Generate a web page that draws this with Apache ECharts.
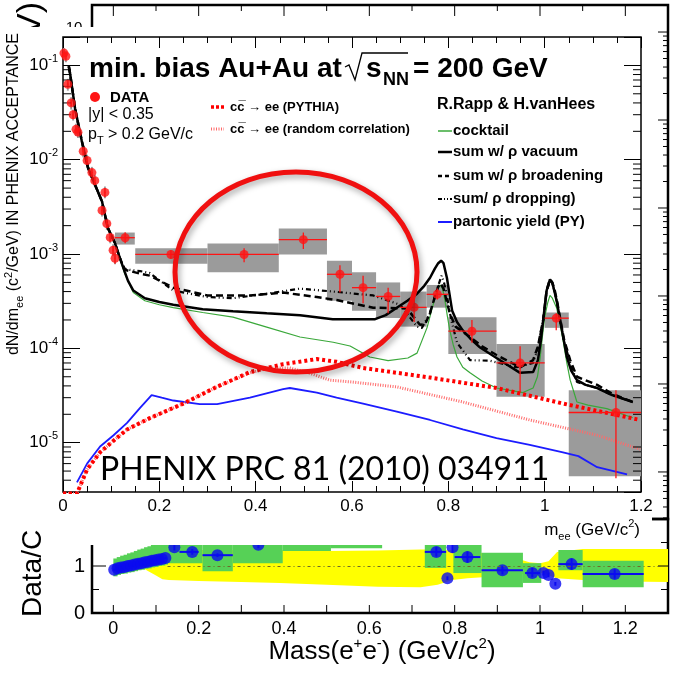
<!DOCTYPE html>
<html>
<head>
<meta charset="utf-8">
<script src="https://cdn.jsdelivr.net/npm/echarts@6/dist/echarts.min.js"></script>
<style>
  html, body { margin: 0; padding: 0; background: #fff; }
  #chart { width: 675px; height: 677px; }
</style>
</head>
<body>
<div id="chart"></div>
<script>
// ---- main panel: measured points (dense low mass + wide bins)
const dataMass  = [0.002, 0.006, 0.010, 0.017, 0.021, 0.027, 0.031, 0.042, 0.050, 0.060, 0.066, 0.081, 0.087, 0.091, 0.098, 0.104, 0.108,
                   0.129, 0.224, 0.376, 0.499, 0.575, 0.623, 0.675, 0.729, 0.777, 0.849, 0.949, 1.024, 1.148];
const dataYield = [0.135, 0.125, 0.063, 0.040, 0.030, 0.021, 0.0196, 0.0123, 0.0098, 0.0073, 0.0060, 0.0029, 0.0045, 0.0021, 0.0015, 0.0011, 0.0009,
                   1.49e-3, 9.9e-4, 9.9e-4, 1.42e-3, 6.1e-4, 4.4e-4, 3.55e-4, 2.72e-4, 3.74e-4, 1.52e-4, 7.0e-5, 2.09e-4, 2.09e-5];
const binLo  = [0.0, 0.004, 0.008, 0.015, 0.019, 0.025, 0.029, 0.040, 0.048, 0.058, 0.064, 0.079, 0.085, 0.089, 0.096, 0.102, 0.106,
                0.108, 0.150, 0.300, 0.448, 0.548, 0.600, 0.650, 0.700, 0.755, 0.800, 0.900, 1.000, 1.050];
const binHi  = [0.004, 0.008, 0.012, 0.019, 0.023, 0.029, 0.033, 0.044, 0.052, 0.062, 0.068, 0.083, 0.089, 0.093, 0.100, 0.106, 0.110,
                0.149, 0.300, 0.448, 0.548, 0.600, 0.650, 0.700, 0.755, 0.800, 0.900, 1.000, 1.050, 1.200];
const statLo = [0.125, 0.115, 0.058, 0.037, 0.027, 0.019, 0.018, 0.0112, 0.0089, 0.0066, 0.0054, 0.0026, 0.0040, 0.0019, 0.00135, 0.00098, 0.00079,
                1.3e-3, 8.9e-4, 8.2e-4, 1.13e-3, 3.9e-4, 3.0e-4, 2.35e-4, 1.9e-4, 3.3e-4, 1.15e-4, 3.4e-5, 1.56e-4, 4.2e-6];
const statHi = [0.145, 0.135, 0.068, 0.043, 0.033, 0.023, 0.0213, 0.0134, 0.0107, 0.0080, 0.0066, 0.0032, 0.0050, 0.0023, 0.00165, 0.00122, 0.00101,
                1.7e-3, 1.1e-3, 1.15e-3, 1.69e-3, 7.6e-4, 5.9e-4, 4.4e-4, 3.4e-4, 4.3e-4, 2.0e-4, 1.05e-4, 2.35e-4, 3.6e-5];
const systLo = [0.117, 0.108, 0.054, 0.034, 0.026, 0.018, 0.0170, 0.0106, 0.0085, 0.0063, 0.0052, 0.0025, 0.0039, 0.0018, 0.0013, 0.00095, 0.00078,
                1.26e-3, 7.9e-4, 6.4e-4, 9.9e-4, 3.2e-4, 2.5e-4, 2.1e-4, 1.7e-4, 2.7e-4, 8.7e-5, 3.06e-5, 1.65e-4, 4.4e-6];
const systHi = [0.153, 0.142, 0.072, 0.046, 0.034, 0.024, 0.0225, 0.0141, 0.0113, 0.0084, 0.0069, 0.0033, 0.0052, 0.0024, 0.0017, 0.00127, 0.00104,
                1.69e-3, 1.15e-3, 1.29e-3, 1.86e-3, 8.5e-4, 6.4e-4, 5.0e-4, 4.0e-4, 4.7e-4, 2.14e-4, 1.11e-4, 2.4e-4, 3.6e-5];

// ---- main panel: model curves
const cocktailMass = [0.012, 0.015, 0.025, 0.039, 0.052, 0.066, 0.081, 0.093, 0.108, 0.118, 0.128, 0.139, 0.146, 0.17, 0.2, 0.229, 0.29, 0.353, 0.423, 0.492,
                      0.561, 0.596, 0.637, 0.675, 0.716, 0.735, 0.745, 0.756, 0.765, 0.772, 0.778, 0.783, 0.788, 0.793, 0.798, 0.803, 0.81, 0.818, 0.83, 0.845,
                      0.87, 0.90, 0.955, 0.976, 0.985, 0.99, 0.995, 1.0, 1.006, 1.011, 1.016, 1.025, 1.032, 1.038, 1.046, 1.053, 1.067, 1.09, 1.129, 1.183];
const cocktailVal  = [0.098, 0.08, 0.035, 0.0158, 0.0082, 0.0055, 0.0036, 0.0019, 0.0013, 0.0009, 0.00062, 0.00047, 0.00039, 0.00032, 0.00029, 0.00027, 0.00024, 0.000214, 0.000168, 0.000132,
                      0.000116, 0.000106, 0.000081, 0.000074, 0.000079, 0.000089, 0.00012, 0.000167, 0.00025, 0.00034, 0.00043, 0.00047, 0.00043, 0.00032, 0.00022, 0.000155, 0.00011, 0.000081, 0.000063, 0.000055,
                      0.000045, 0.000038, 0.000034, 0.000038, 0.00005, 0.000075, 0.00013, 0.000214, 0.0003, 0.000364, 0.00034, 0.000267, 0.00018, 0.000123, 0.00007, 0.000046, 0.000027, 0.000025, 0.000023, 0.0000184];

const vacuumMass = [0.012, 0.015, 0.025, 0.039, 0.052, 0.066, 0.081, 0.093, 0.108, 0.118, 0.128, 0.135, 0.146, 0.17, 0.2, 0.229, 0.29, 0.353, 0.423, 0.492,
                    0.56, 0.648, 0.67, 0.693, 0.715, 0.735, 0.75, 0.762, 0.772, 0.779, 0.785, 0.79, 0.797, 0.803, 0.808, 0.818, 0.83, 0.845, 0.866, 0.90,
                    0.949, 0.976, 0.986, 0.992, 0.997, 1.004, 1.011, 1.016, 1.021, 1.026, 1.032, 1.04, 1.046, 1.055, 1.067, 1.085, 1.109, 1.14, 1.183];
const vacuumVal  = [0.098, 0.08, 0.035, 0.0158, 0.0082, 0.0055, 0.0036, 0.0019, 0.0013, 0.00091, 0.00065, 0.00052, 0.00041, 0.00034, 0.00031, 0.00029, 0.00026, 0.000247, 0.000235, 0.000224,
                    0.000204, 0.000204, 0.000225, 0.00027, 0.00032, 0.00038, 0.00046, 0.00056, 0.0007, 0.0008, 0.00085, 0.0008, 0.00056, 0.00036, 0.00025, 0.00019, 0.000155, 0.000128, 0.000102, 0.000079,
                    0.000055, 0.000056, 0.000075, 0.00012, 0.0002, 0.00041, 0.00054, 0.00049, 0.00039, 0.0003, 0.0002, 0.00012, 0.000081, 0.000058, 0.000046, 0.000041, 0.000038, 0.000032, 0.000027];

const broadMass = [0.012, 0.015, 0.025, 0.039, 0.052, 0.066, 0.081, 0.093, 0.108, 0.118, 0.128, 0.139, 0.16, 0.18, 0.229, 0.3, 0.388, 0.457, 0.527, 0.568,
                   0.644, 0.714, 0.741, 0.752, 0.762, 0.772, 0.779, 0.784, 0.79, 0.797, 0.803, 0.815, 0.845, 0.87, 0.90, 0.949, 0.976, 0.986, 0.992, 0.997,
                   1.004, 1.011, 1.016, 1.021, 1.026, 1.032, 1.04, 1.053, 1.067, 1.109, 1.14, 1.183];
const broadVal  = [0.098, 0.08, 0.035, 0.0158, 0.0082, 0.0055, 0.0036, 0.0019, 0.0013, 0.00091, 0.00068, 0.00066, 0.00062, 0.00059, 0.00044, 0.000364, 0.000364, 0.00039, 0.00035, 0.000325,
                   0.00027, 0.000265, 0.000178, 0.00018, 0.00024, 0.00035, 0.00045, 0.00049, 0.00043, 0.00031, 0.000235, 0.00017, 0.000132, 0.000105, 0.000085, 0.000063, 0.000075, 0.000105, 0.00015, 0.0002,
                   0.00041, 0.00054, 0.0005, 0.00041, 0.00031, 0.00021, 0.000125, 0.000075, 0.00005, 0.000041, 0.000033, 0.000027];

const dropMass = [0.012, 0.015, 0.025, 0.039, 0.052, 0.066, 0.081, 0.093, 0.108, 0.118, 0.128, 0.139, 0.16, 0.18, 0.229, 0.3, 0.353, 0.423, 0.492, 0.561,
                  0.644, 0.70, 0.735, 0.745, 0.762, 0.775, 0.786, 0.791, 0.797, 0.806, 0.818, 0.845, 0.886, 0.942, 0.976, 0.986, 0.992, 0.997, 1.004, 1.011,
                  1.016, 1.021, 1.026, 1.032, 1.04, 1.053, 1.067, 1.109, 1.14, 1.183];
const dropVal  = [0.098, 0.08, 0.035, 0.0158, 0.0082, 0.0055, 0.0036, 0.0019, 0.0013, 0.00091, 0.0007, 0.00068, 0.00066, 0.00063, 0.00041, 0.00035, 0.00034, 0.00038, 0.00043, 0.0004,
                  0.000364, 0.00029, 0.00017, 0.000165, 0.000235, 0.0004, 0.00059, 0.0005, 0.000364, 0.0002, 0.000115, 0.000075, 0.000074, 0.000063, 0.00007, 0.0001, 0.00015, 0.0002, 0.0004, 0.00052,
                  0.00048, 0.0004, 0.0003, 0.0002, 0.00012, 0.00007, 0.000044, 0.000038, 0.000032, 0.000027];

const pythiaMass = [0.0, 0.029, 0.05, 0.077, 0.105, 0.133, 0.18, 0.25, 0.319, 0.388, 0.457, 0.527, 0.568, 0.623, 0.762, 0.90, 1.038, 1.198];
const pythiaVal  = [2.9e-6, 2.9e-6, 5.2e-6, 7.9e-6, 1.05e-5, 1.38e-5, 1.82e-5, 2.6e-5, 3.9e-5, 5.6e-5, 6.8e-5, 7.7e-5, 7.2e-5, 6.2e-5, 4.9e-5, 3.8e-5, 2.6e-5, 1.74e-5];
const randomMass = [0.0, 0.029, 0.05, 0.077, 0.105, 0.133, 0.18, 0.25, 0.319, 0.388, 0.43, 0.47, 0.51, 0.554, 0.6, 0.693, 0.83, 0.969, 1.109, 1.198];
const randomVal  = [2.9e-6, 2.9e-6, 5.2e-6, 7.9e-6, 1.05e-5, 1.38e-5, 1.82e-5, 2.6e-5, 3.9e-5, 5.5e-5, 6.2e-5, 6.2e-5, 5.5e-5, 4.6e-5, 4.4e-5, 3.9e-5, 2.7e-5, 1.74e-5, 1.2e-5, 8.5e-6];
const partonMass = [0.029, 0.05, 0.077, 0.105, 0.133, 0.16, 0.184, 0.205, 0.229, 0.284, 0.32, 0.388, 0.457, 0.471, 0.527, 0.568, 0.623, 0.693, 0.762, 0.83,
                    0.90, 0.969, 1.038, 1.07, 1.109, 1.171];
const partonVal  = [3.8e-6, 6e-6, 9.1e-6, 1.2e-5, 1.62e-5, 2.34e-5, 3.2e-5, 3.0e-5, 2.8e-5, 2.56e-5, 2.56e-5, 3.0e-5, 3.7e-5, 3.8e-5, 3.4e-5, 3.0e-5, 2.6e-5, 2.14e-5, 1.74e-5, 1.38e-5,
                    1.12e-5, 9.5e-6, 7.9e-6, 7.2e-6, 5.5e-6, 4.6e-6];

// ---- ratio panel (Data/Cocktail)
const ratioMass  = [0.002, 0.010, 0.018, 0.026, 0.034, 0.042, 0.050, 0.058, 0.066, 0.074, 0.082, 0.090, 0.098, 0.106, 0.114, 0.122,
                    0.143, 0.185, 0.244, 0.340, 0.450, 0.570, 0.757, 0.783, 0.795, 0.830, 0.912, 0.982, 1.008, 1.020, 1.036, 1.074, 1.175];
const ratioVal   = [0.92, 0.95, 0.97, 0.98, 1.00, 1.01, 1.03, 1.05, 1.06, 1.08, 1.09, 1.11, 1.12, 1.14, 1.15, 1.17,
                    1.40, 1.30, 1.23, 1.45, 1.75, 1.80, 1.30, 0.74, 1.40, 1.19, 0.91, 0.85, 0.85, 0.81, 0.62, 1.04, 0.83];
const ratioXLo   = [0.002, 0.010, 0.018, 0.026, 0.034, 0.042, 0.050, 0.058, 0.066, 0.074, 0.082, 0.090, 0.098, 0.106, 0.114, 0.122,
                    0.143, 0.155, 0.209, 0.340, 0.450, 0.570, 0.730, 0.783, 0.795, 0.800, 0.863, 0.965, 1.008, 1.020, 1.036, 1.043, 1.100];
const ratioXHi   = [0.002, 0.010, 0.018, 0.026, 0.034, 0.042, 0.050, 0.058, 0.066, 0.074, 0.082, 0.090, 0.098, 0.106, 0.114, 0.122,
                    0.143, 0.200, 0.280, 0.340, 0.450, 0.570, 0.780, 0.783, 0.795, 0.860, 0.960, 1.000, 1.008, 1.020, 1.036, 1.100, 1.243];
const ratioErrLo = [0.90, 0.93, 0.95, 0.96, 0.98, 0.99, 1.01, 1.03, 1.04, 1.06, 1.07, 1.09, 1.10, 1.12, 1.13, 1.15,
                    1.33, 1.24, 1.19, 1.38, 1.60, 1.60, 1.20, 0.70, 1.28, 1.07, 0.82, 0.76, 0.80, 0.76, 0.58, 0.92, 0.73];
const ratioErrHi = [0.94, 0.97, 0.99, 1.00, 1.02, 1.03, 1.05, 1.07, 1.08, 1.10, 1.11, 1.13, 1.14, 1.16, 1.17, 1.19,
                    1.47, 1.36, 1.27, 1.52, 1.90, 2.00, 1.40, 0.78, 1.52, 1.31, 1.00, 0.96, 0.90, 0.86, 0.66, 1.16, 0.93];
// green systematic boxes of the ratio
const boxXLo = [0.000, 0.008, 0.016, 0.024, 0.032, 0.040, 0.048, 0.056, 0.064, 0.072, 0.080, 0.088, 0.096, 0.104, 0.112, 0.120,
                0.127, 0.209, 0.280, 0.397, 0.510, 0.730, 0.797, 0.863, 0.960, 1.043, 1.100];
const boxXHi = [0.010, 0.018, 0.026, 0.034, 0.042, 0.050, 0.058, 0.066, 0.074, 0.082, 0.090, 0.098, 0.106, 0.114, 0.122, 0.128,
                0.209, 0.280, 0.397, 0.510, 0.630, 0.780, 0.863, 0.960, 1.003, 1.100, 1.243];
const boxLo  = [0.78, 0.81, 0.83, 0.84, 0.86, 0.87, 0.89, 0.91, 0.92, 0.94, 0.95, 0.97, 0.98, 1.00, 1.01, 1.03,
                1.06, 0.89, 1.06, 1.32, 1.38, 0.96, 0.85, 0.55, 0.64, 0.91, 0.55];
const boxHi  = [1.16, 1.19, 1.22, 1.24, 1.27, 1.29, 1.32, 1.35, 1.37, 1.40, 1.42, 1.45, 1.47, 1.50, 1.52, 1.55,
                1.80, 1.60, 1.90, 2.00, 2.00, 1.60, 1.50, 1.28, 1.06, 1.34, 1.11];
// yellow cocktail uncertainty band
const bandMass = [0.065, 0.08, 0.1, 0.115, 0.13, 0.2, 0.3, 0.39, 0.5, 0.62, 0.72, 0.76, 0.795, 0.83, 0.9, 0.95, 0.975, 1.0, 1.02, 1.04, 1.1, 1.2, 1.3];
const bandLo   = [0.98, 0.9, 0.8, 0.72, 0.70, 0.68, 0.66, 0.64, 0.60, 0.56, 0.55, 0.60, 0.70, 0.74, 0.78, 0.82, 0.85, 0.86, 0.80, 0.74, 0.70, 0.67, 0.66];
const bandHi   = [1.05, 1.1, 1.15, 1.2, 1.3, 1.34, 1.34, 1.34, 1.32, 1.33, 1.35, 1.35, 1.33, 1.30, 1.25, 1.15, 1.08, 1.06, 1.10, 1.30, 1.36, 1.36, 1.36];
// dotted unity line of the ratio (start, end mass)
const unityRange = [0.127, 1.3];

// ---- tick positions
const massTicks      = [0, 0.1, 0.2, 0.3, 0.4, 0.5, 0.6, 0.7, 0.8, 0.9, 1.0, 1.1, 1.2];
const ratioTicks     = [0, 0.5, 1, 1.5];
const ratioLabels    = ['0', '', '1', ''];
const logMultipliers = [2, 3, 4, 5, 6, 7, 8, 9];
const mainDecades    = [1e-6, 1e-5, 1e-4, 1e-3, 1e-2, 1e-1];
const bgDecades      = [1e-7, 1e-6, 1e-5, 1e-4, 1e-3, 1e-2, 1e-1];

const FONT = '"Liberation Sans", Arial, sans-serif';
const RED = '#ff1414';

function minorLogTicks(decades, lo, hi) {
  const out = [];
  decades.forEach(d => logMultipliers.forEach(k => {
    const v = k * d;
    if (v > lo && v < hi) out.push(v);
  }));
  return out;
}

// short tick (and optional label) pinned to one edge of the grid
function tickItem(side, labels) {
  return function (params, api) {
    const cs = params.coordSys;
    const p = api.coord([api.value(0), api.value(1)]);
    const len = api.value(2);
    let shape;
    if (side === 'bottom') shape = { x1: p[0], y1: cs.y + cs.height, x2: p[0], y2: cs.y + cs.height - len };
    else if (side === 'top') shape = { x1: p[0], y1: cs.y, x2: p[0], y2: cs.y + len };
    else if (side === 'left') shape = { x1: cs.x, y1: p[1], x2: cs.x + len, y2: p[1] };
    else shape = { x1: cs.x + cs.width, y1: p[1], x2: cs.x + cs.width - len, y2: p[1] };
    const line = { type: 'line', shape: shape, style: { stroke: '#000', lineWidth: 1 } };
    if (!labels) return line;
    return { type: 'group', children: [line, { type: 'text', x: cs.x - 7, y: p[1],
      style: { text: labels[params.dataIndex], font: '20px ' + FONT, fill: '#000', align: 'right', verticalAlign: 'middle' } }] };
  };
}

function tickSeries(xi, yi, side, data, z, labels) {
  return { type: 'custom', xAxisIndex: xi, yAxisIndex: yi, renderItem: tickItem(side, labels), data: data, silent: true, z: z, clip: false };
}

function boxItem(color) {
  return function (params, api) {
    const a = api.coord([api.value(0), api.value(3)]);
    const b = api.coord([api.value(1), api.value(2)]);
    return { type: 'rect', shape: { x: a[0], y: a[1], width: b[0] - a[0], height: b[1] - a[1] }, style: { fill: color } };
  };
}

function errItem(color, w) {
  return function (params, api) {
    const c = api.coord([api.value(0), api.value(1)]);
    const xl = api.coord([api.value(2), api.value(1)])[0];
    const xh = api.coord([api.value(3), api.value(1)])[0];
    const yl = api.coord([api.value(0), api.value(4)])[1];
    const yh = api.coord([api.value(0), api.value(5)])[1];
    return { type: 'group', children: [
      { type: 'line', shape: { x1: xl, y1: c[1], x2: xh, y2: c[1] }, style: { stroke: color, lineWidth: w } },
      { type: 'line', shape: { x1: c[0], y1: yl, x2: c[0], y2: yh }, style: { stroke: color, lineWidth: w } }
    ] };
  };
}

function pairs(xs, ys) { return xs.map((x, i) => [x, ys[i]]); }

function curve(name, xs, ys, color, width, type) {
  return { name: name, type: 'line', xAxisIndex: 1, yAxisIndex: 1, data: pairs(xs, ys), showSymbol: false, symbol: 'none',
           lineStyle: { color: color, width: width, type: type }, z: 8, silent: true };
}

const noLine = { show: false, onZero: false };

const chart = echarts.init(document.getElementById('chart'));

const options = {
  animation: false,
  backgroundColor: '#fff',
  textStyle: { fontFamily: FONT, color: '#000' },
  grid: [
    { left: 92, right: 7, top: 5, bottom: 158, show: true, borderColor: '#000', borderWidth: 2.5, z: 0 },
    { left: 63, right: 34, top: 37, bottom: 185, show: true, borderColor: '#000', borderWidth: 1.5, z: 6 },
    { left: 92, right: 7, top: 519, bottom: 64, show: true, borderColor: '#000', borderWidth: 2.5, z: 0 }
  ],
  xAxis: [
    { gridIndex: 0, type: 'value', min: -0.05, max: 1.3, show: false, axisLine: noLine },
    { gridIndex: 1, type: 'value', min: 0, max: 1.2, interval: 0.2, position: 'bottom', z: 6,
      axisLine: noLine, splitLine: { show: false },
      axisTick: { inside: true, length: 11, lineStyle: { color: '#000' } },
      minorTick: { show: true, splitNumber: 4, length: 6, lineStyle: { color: '#000' } },
      axisLabel: { fontSize: 17, color: '#000', margin: 6, fontFamily: FONT } },
    { gridIndex: 1, type: 'value', min: 0, max: 1.2, interval: 0.2, position: 'top', z: 6,
      axisLine: noLine, splitLine: { show: false },
      axisTick: { inside: true, length: 11, lineStyle: { color: '#000' } },
      minorTick: { show: true, splitNumber: 4, length: 6, lineStyle: { color: '#000' } },
      axisLabel: { show: false } },
    { gridIndex: 2, type: 'value', min: -0.05, max: 1.3, splitNumber: 7, minInterval: 0.2, maxInterval: 0.2,
      axisLine: noLine, axisTick: { show: false }, splitLine: { show: false },
      axisLabel: { fontSize: 18, color: '#000', margin: 7, fontFamily: FONT, showMinLabel: false, showMaxLabel: false,
        formatter: v => (v < -0.001 || v > 1.21) ? '' : String(Math.round(v * 10) / 10) } }
  ],
  yAxis: [
    { gridIndex: 0, type: 'log', min: 2.92e-7, max: 0.2028, show: false, axisLine: noLine },
    { gridIndex: 1, type: 'log', min: 3e-6, max: 0.2, position: 'left', z: 6,
      axisLine: noLine, splitLine: { show: false },
      axisTick: { inside: true, length: 17, lineStyle: { color: '#000' } },
      axisLabel: { margin: 5, color: '#000',
        formatter: function (v) {
          const e = Math.log10(v);
          if (Math.abs(e - Math.round(e)) > 1e-6) return '';
          return '{b|10}{s|' + Math.round(e) + '}';
        },
        rich: { b: { fontSize: 17, lineHeight: 24, fontFamily: FONT, color: '#000' },
                s: { fontSize: 11, lineHeight: 12, verticalAlign: 'top', fontFamily: FONT, color: '#000' } } } },
    { gridIndex: 1, type: 'log', min: 3e-6, max: 0.2, position: 'right', z: 6,
      axisLine: noLine, splitLine: { show: false },
      axisTick: { inside: true, length: 17, lineStyle: { color: '#000' } },
      axisLabel: { show: false } },
    // ratio y axis: scale only, ticks and labels drawn by the custom series below
    { gridIndex: 2, type: 'value', min: 0, max: 2, show: false, axisLine: noLine }
  ],
  series: [
    // background panel ticks (top and right)
    tickSeries(0, 0, 'top', massTicks.map((v, i) => [v, 0.01, i % 2 === 0 ? 11 : 6]), 1),
    tickSeries(0, 0, 'right', bgDecades.filter(v => v > 2.92e-7).map(v => [1, v, 10])
      .concat(minorLogTicks(bgDecades, 2.92e-7, 0.2028).map(v => [1, v, 5])), 1),

    // ratio panel
    { type: 'custom', xAxisIndex: 3, yAxisIndex: 3, silent: true, z: 1, data: [[0, 1]],
      renderItem: function (params, api) {
        const up = bandMass.map((m, i) => api.coord([m, bandHi[i]]));
        const dn = bandMass.map((m, i) => api.coord([m, bandLo[i]])).reverse();
        return { type: 'polygon', shape: { points: up.concat(dn) }, style: { fill: '#ffff00' } };
      },
      markLine: { silent: true, symbol: 'none', label: { show: false },
        lineStyle: { color: '#6e6a2a', width: 1, type: [3, 3, 1, 3] },
        data: [[{ coord: [unityRange[0], 1] }, { coord: [unityRange[1], 1] }]] } },
    { type: 'custom', xAxisIndex: 3, yAxisIndex: 3, silent: true, z: 3,
      renderItem: boxItem('#56d156'), encode: { x: [0, 1], y: [2, 3] },
      data: boxXLo.map((x, i) => [x, boxXHi[i], boxLo[i], boxHi[i]]) },
    { type: 'custom', xAxisIndex: 3, yAxisIndex: 3, silent: true, z: 4,
      renderItem: errItem('#0a0af0', 2), encode: { x: [0, 2, 3], y: [1, 4, 5] },
      data: ratioMass.map((m, i) => [m, ratioVal[i], ratioXLo[i], ratioXHi[i], ratioErrLo[i], ratioErrHi[i]]) },
    { type: 'scatter', xAxisIndex: 3, yAxisIndex: 3, silent: true, z: 4, symbolSize: 12,
      itemStyle: { color: '#0a0af0' }, data: pairs(ratioMass, ratioVal) },
    tickSeries(3, 3, 'bottom', massTicks.map(v => [v, 1, 8]), 4),
    tickSeries(3, 3, 'left', ratioTicks.map((v, i) => [0, v, i % 2 === 0 ? 14 : 7]), 4, ratioLabels),
    tickSeries(3, 3, 'right', ratioTicks.map((v, i) => [0, v, i % 2 === 0 ? 10 : 7]), 4),

    // main panel
    { type: 'custom', xAxisIndex: 1, yAxisIndex: 1, silent: true, z: 7,
      renderItem: boxItem('#9b9b9b'), encode: { x: [0, 1], y: [2, 3] },
      data: dataMass.map((m, i) => [binLo[i], binHi[i], systLo[i], systHi[i]]) },
    curve('cocktail', cocktailMass, cocktailVal, '#3aa83a', 1.2, 'solid'),
    curve('partonic yield (PY)', partonMass, partonVal, '#1c1cff', 1.8, 'solid'),
    curve('random', randomMass, randomVal, '#ff6a6a', 3, [1, 1.5]),
    curve('pythia', pythiaMass, pythiaVal, '#ff0000', 4, [3, 3]),
    curve('dropping', dropMass, dropVal, '#000', 2.2, [5, 3, 1, 3, 1, 3]),
    curve('broadening', broadMass, broadVal, '#000', 2.5, [7, 4]),
    curve('vacuum', vacuumMass, vacuumVal, '#000', 2.5, 'solid'),
    { type: 'custom', xAxisIndex: 1, yAxisIndex: 1, silent: true, z: 9,
      renderItem: errItem(RED, 1.3), encode: { x: [0, 2, 3], y: [1, 4, 5] },
      data: dataMass.map((m, i) => [m, dataYield[i], binLo[i], binHi[i], statLo[i], statHi[i]]) },
    { type: 'scatter', xAxisIndex: 1, yAxisIndex: 1, silent: true, z: 9, symbolSize: 9,
      itemStyle: { color: RED }, data: pairs(dataMass, dataYield) },
    tickSeries(1, 1, 'left', minorLogTicks(mainDecades, 3e-6, 0.2).map(v => [0.5, v, 8]), 9),
    tickSeries(1, 1, 'right', minorLogTicks(mainDecades, 3e-6, 0.2).map(v => [0.5, v, 8]), 9)
  ],
  graphic: { elements: [
    // pieces of the underlying figure
    { type: 'text', x: 31, y: 2, rotation: Math.PI / 2, z: 4,
      style: { text: '(c²/GeV)', fontSize: 34, fontFamily: FONT, fill: '#000', align: 'right', verticalAlign: 'middle' } },
    { type: 'text', x: 74, y: 28, z: 4,
      style: { text: '10', fontSize: 15, fontFamily: FONT, fill: '#000', align: 'center', verticalAlign: 'middle' } },
    // pasted panel background
    { type: 'rect', shape: { x: 0, y: 27, width: 652, height: 518 }, style: { fill: '#fff' }, z: 5 },

    // main panel titles
    { type: 'text', x: 14, y: 33, rotation: Math.PI / 2, z: 10,
      style: { text: '{a|dN/dm}{s|ee}{a| (c}{p|2}{a|/GeV) IN PHENIX ACCEPTANCE}', align: 'right', verticalAlign: 'middle',
        rich: { a: { fontSize: 16, lineHeight: 22, fontFamily: FONT, fill: '#000' },
                s: { fontSize: 11, lineHeight: 11, verticalAlign: 'bottom', fontFamily: FONT, fill: '#000' },
                p: { fontSize: 11, lineHeight: 11, verticalAlign: 'top', fontFamily: FONT, fill: '#000' } } } },
    { type: 'text', x: 640, y: 530, z: 10,
      style: { text: '{a|m}{s|ee}{a| (GeV/c}{p|2}{a|)}', align: 'right', verticalAlign: 'middle',
        rich: { a: { fontSize: 17, lineHeight: 24, fontFamily: FONT, fill: '#000' },
                s: { fontSize: 11, lineHeight: 11, verticalAlign: 'bottom', fontFamily: FONT, fill: '#000' },
                p: { fontSize: 11, lineHeight: 11, verticalAlign: 'top', fontFamily: FONT, fill: '#000' } } } },
    { type: 'text', x: 89, y: 69, z: 10,
      style: { text: 'min. bias Au+Au at', font: 'bold 28px ' + FONT, fill: '#000', align: 'left', verticalAlign: 'middle' } },
    { type: 'polyline', z: 10, shape: { points: [[345, 67], [349, 65], [355, 80], [362, 53], [408, 53]] },
      style: { stroke: '#000', lineWidth: 1.3, fill: null } },
    { type: 'text', x: 366, y: 69, z: 10,
      style: { text: 's', font: 'bold 28px ' + FONT, fill: '#000', align: 'left', verticalAlign: 'middle' } },
    { type: 'text', x: 383, y: 80, z: 10,
      style: { text: 'NN', font: 'bold 18px ' + FONT, fill: '#000', align: 'left', verticalAlign: 'middle' } },
    { type: 'text', x: 413, y: 69, z: 10,
      style: { text: '= 200 GeV', font: 'bold 28px ' + FONT, fill: '#000', align: 'left', verticalAlign: 'middle' } },

    // left legend
    { type: 'circle', z: 10, shape: { cx: 95, cy: 97, r: 5 }, style: { fill: RED } },
    { type: 'text', x: 110, y: 98, z: 10,
      style: { text: 'DATA', font: 'bold 15px ' + FONT, fill: '#000', align: 'left', verticalAlign: 'middle' } },
    { type: 'text', x: 88, y: 115, z: 10,
      style: { text: '|y| < 0.35', font: '16px ' + FONT, fill: '#000', align: 'left', verticalAlign: 'middle' } },
    { type: 'text', x: 88, y: 135, z: 10,
      style: { text: '{a|p}{s|T}{a| > 0.2 GeV/c}', align: 'left', verticalAlign: 'middle',
        rich: { a: { fontSize: 16, lineHeight: 22, fontFamily: FONT, fill: '#000' },
                s: { fontSize: 11, lineHeight: 11, verticalAlign: 'bottom', fontFamily: FONT, fill: '#000' } } } },
    { type: 'line', z: 10, shape: { x1: 211, y1: 107, x2: 224, y2: 107 }, style: { stroke: '#ff0000', lineWidth: 3.5, lineDash: [3, 2] } },
    { type: 'text', x: 230, y: 107, z: 10,
      style: { text: 'cc\u0305 \u2192 ee (PYTHIA)', font: 'bold 13px ' + FONT, fill: '#000', align: 'left', verticalAlign: 'middle' } },
    { type: 'line', z: 10, shape: { x1: 211, y1: 129, x2: 224, y2: 129 }, style: { stroke: '#ff6a6a', lineWidth: 3, lineDash: [1, 1.5] } },
    { type: 'text', x: 230, y: 129, z: 10,
      style: { text: 'cc\u0305 \u2192 ee (random correlation)', font: 'bold 13px ' + FONT, fill: '#000', align: 'left', verticalAlign: 'middle' } },

    // right legend
    { type: 'text', x: 437, y: 105, z: 10,
      style: { text: 'R.Rapp & H.vanHees', font: 'bold 16px ' + FONT, fill: '#000', align: 'left', verticalAlign: 'middle' } },
    { type: 'line', z: 10, shape: { x1: 438, y1: 131, x2: 452, y2: 131 }, style: { stroke: '#3aa83a', lineWidth: 1.5 } },
    { type: 'text', x: 453, y: 131, z: 10,
      style: { text: 'cocktail', font: 'bold 15px ' + FONT, fill: '#000', align: 'left', verticalAlign: 'middle' } },
    { type: 'line', z: 10, shape: { x1: 438, y1: 152, x2: 452, y2: 152 }, style: { stroke: '#000', lineWidth: 2.5 } },
    { type: 'text', x: 453, y: 152, z: 10,
      style: { text: 'sum w/ \u03c1 vacuum', font: 'bold 15px ' + FONT, fill: '#000', align: 'left', verticalAlign: 'middle' } },
    { type: 'line', z: 10, shape: { x1: 438, y1: 176, x2: 452, y2: 176 }, style: { stroke: '#000', lineWidth: 2.5, lineDash: [4, 3] } },
    { type: 'text', x: 453, y: 176, z: 10,
      style: { text: 'sum w/ \u03c1 broadening', font: 'bold 15px ' + FONT, fill: '#000', align: 'left', verticalAlign: 'middle' } },
    { type: 'line', z: 10, shape: { x1: 438, y1: 199, x2: 452, y2: 199 }, style: { stroke: '#000', lineWidth: 2, lineDash: [4, 2, 1, 2, 1, 2] } },
    { type: 'text', x: 453, y: 199, z: 10,
      style: { text: 'sum/ \u03c1 dropping)', font: 'bold 15px ' + FONT, fill: '#000', align: 'left', verticalAlign: 'middle' } },
    { type: 'line', z: 10, shape: { x1: 438, y1: 222, x2: 452, y2: 222 }, style: { stroke: '#1c1cff', lineWidth: 2 } },
    { type: 'text', x: 453, y: 222, z: 10,
      style: { text: 'partonic yield (PY)', font: 'bold 15px ' + FONT, fill: '#000', align: 'left', verticalAlign: 'middle' } },

    // annotation
    { type: 'ellipse', z: 10, shape: { cx: 296, cy: 272, rx: 121, ry: 100 },
      style: { fill: null, stroke: '#f01010', lineWidth: 5, shadowBlur: 6, shadowColor: 'rgba(0,0,0,0.35)', shadowOffsetX: 2, shadowOffsetY: 3 } },
    { type: 'text', x: 100, y: 470, z: 10,
      style: { text: 'PHENIX PRC 81 (2010) 034911', font: '32px Lato, "Open Sans", sans-serif', fill: '#000', align: 'left', verticalAlign: 'middle' } },

    // ratio panel titles
    { type: 'text', x: 33, y: 617, rotation: Math.PI / 2, z: 10,
      style: { text: 'Data/C', font: '28px ' + FONT, fill: '#000', align: 'left', verticalAlign: 'middle' } },
    { type: 'text', x: 382, y: 652, z: 10,
      style: { text: '{a|Mass(e}{p|+}{a|e}{p|-}{a|) (GeV/c}{p|2}{a|)}', align: 'center', verticalAlign: 'middle',
        rich: { a: { fontSize: 26, lineHeight: 32, fontFamily: FONT, fill: '#000' },
                p: { fontSize: 15, lineHeight: 15, verticalAlign: 'top', fontFamily: FONT, fill: '#000' } } } }
  ] }
};

chart.setOption(options);
</script>
</body>
</html>
